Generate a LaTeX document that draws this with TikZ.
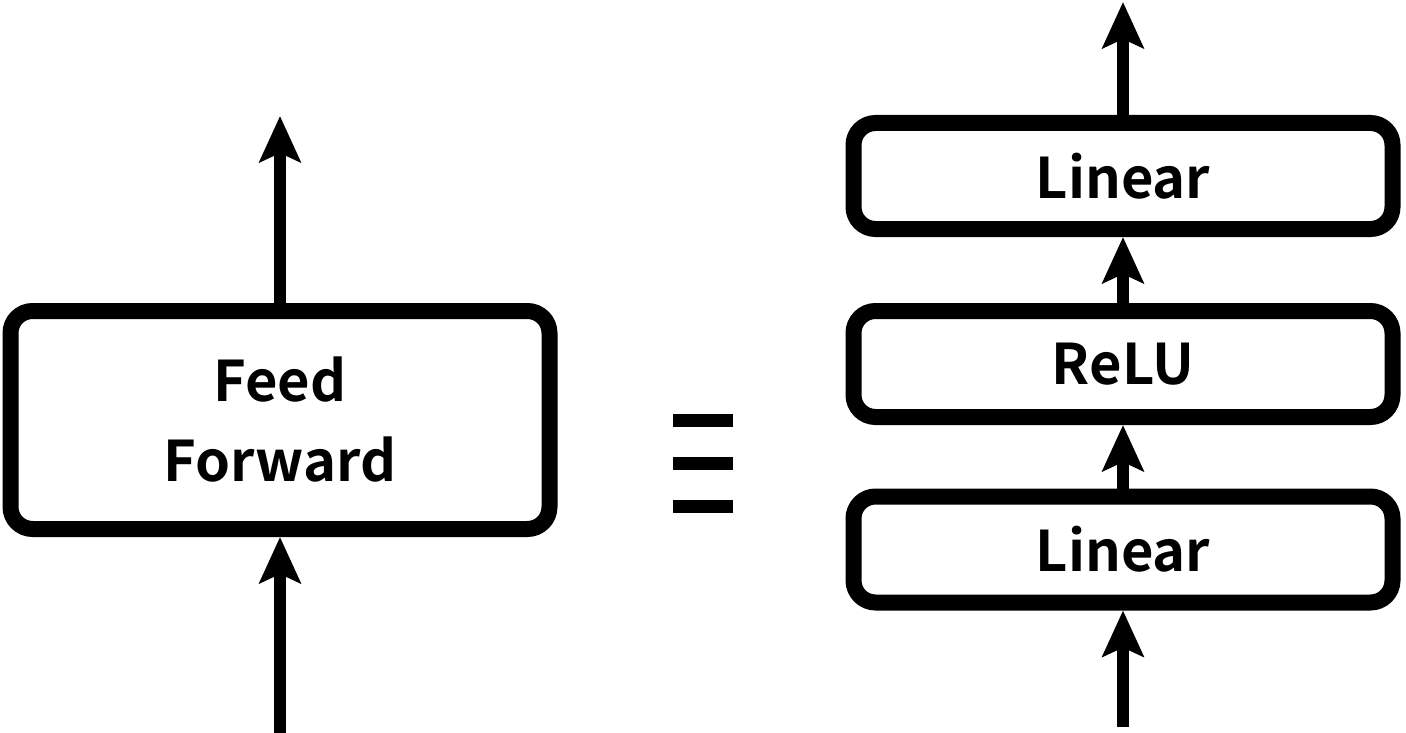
\documentclass[tikz,border=0pt]{standalone}
\usepackage{fontspec}
\newfontfamily\labfont{Noto Sans CJK SC}[UprightFont=*, BoldFont=* Bold]
\usetikzlibrary{arrows.meta}
\tikzset{
  blk/.style={draw=black, line width=16pt, rounded corners=22pt, fill=white,
    minimum width=539pt, inner sep=0pt, align=center,
    font=\labfont\bfseries\fontsize{56}{80}\selectfont},
  flow/.style={line width=12pt, -{Stealth[length=46pt,width=41pt,inset=9pt]}},
  eqbar/.style={fill=black, draw=none}
}
\begin{document}
\begin{tikzpicture}[x=1pt,y=-1pt]
\useasboundingbox (0,0) rectangle (1406,733);
% left
\node[blk, minimum height=218pt] (ff) at (280,420) {Feed\\Forward};
\coordinate (ffin) at (280,733);
\coordinate (ffout) at (280,116);
\draw[flow] (ffin) -- (ff.south);
\draw[flow] (ff.north) -- (ffout);
% equivalence sign
\fill[eqbar] (673,414) rectangle (733,427);
\fill[eqbar] (673,457) rectangle (733,470);
\fill[eqbar] (673,500) rectangle (733,513);
% right
\node[blk, minimum height=106pt] (l1) at (1123,549.5) {Linear};
\node[blk, minimum height=106pt] (relu) at (1123,364) {ReLU};
\node[blk, minimum height=106pt] (l2) at (1123,176) {Linear};
\coordinate (in2) at (1123,727);
\coordinate (out2) at (1123,2);
\draw[flow] (in2) -- (l1.south);
\draw[flow] (l1.north) -- (relu.south);
\draw[flow] (relu.north) -- (l2.south);
\draw[flow] (l2.north) -- (out2);
\end{tikzpicture}
\end{document}
